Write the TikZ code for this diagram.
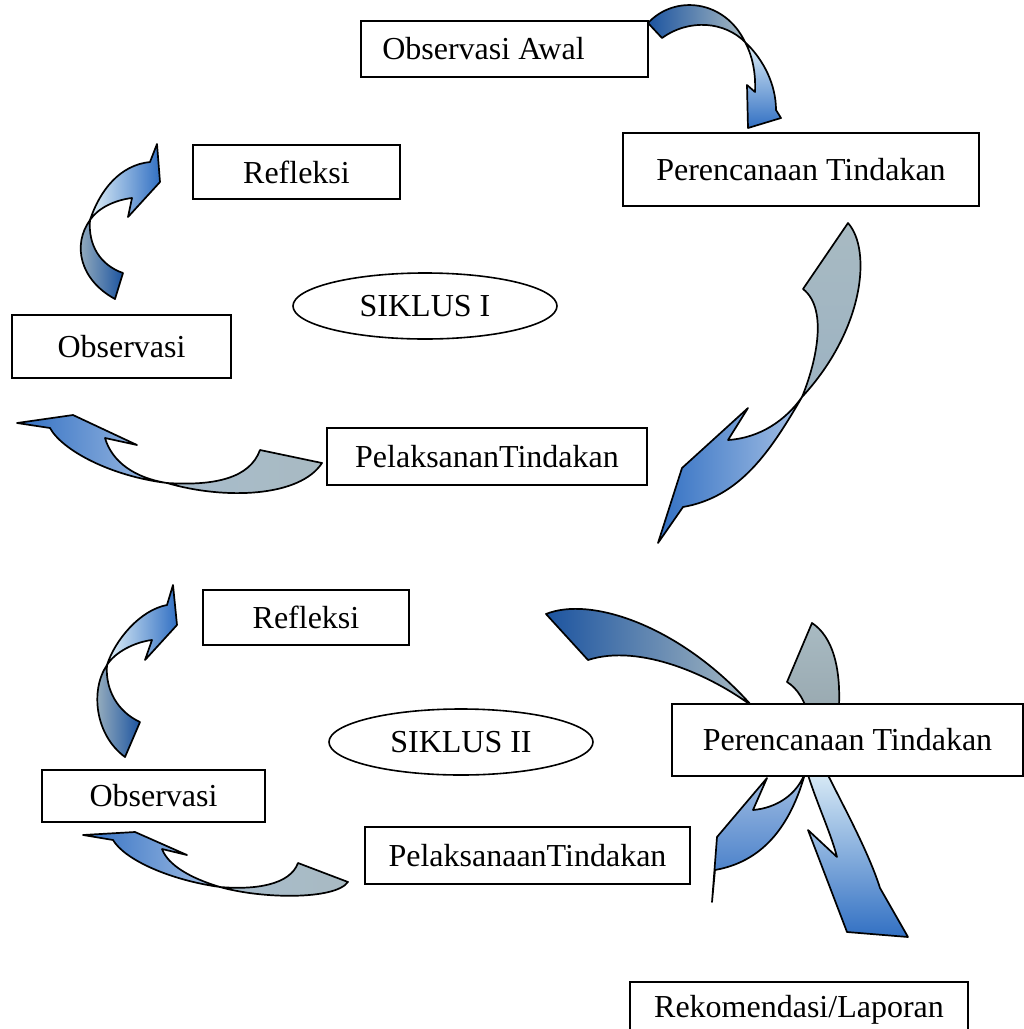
\documentclass[tikz,border=0pt]{standalone}
\usepackage{fontspec}
\setmainfont{Liberation Serif}
\usetikzlibrary{shapes.geometric}
\definecolor{birutua}{RGB}{28,84,160}
\definecolor{biru}{RGB}{50,112,195}
\definecolor{birupucat}{RGB}{165,192,228}
\definecolor{muda}{RGB}{224,240,248}
\definecolor{abu}{RGB}{168,186,194}
\tikzset{
  kotak/.style={draw, fill=white, line width=1.6pt, font=\fontsize{32}{38}\selectfont},
  siklus/.style={kotak, ellipse, minimum width=264pt, minimum height=66pt, inner sep=0pt},
  pita/.style={draw, line width=1.7pt, line join=round}
}

\begin{document}
\begin{tikzpicture}[x=1pt, y=-1pt]
  \useasboundingbox (0,0) rectangle (1024,1029);

  \draw[pita, left color=birutua, right color=abu] (648,23) .. controls (675,-6) and (725,0) .. (745,42) .. controls (725,22) and (690,18) .. (662,38) -- cycle;
  \draw[pita, top color=muda, bottom color=biru] (745,42) .. controls (764,60) and (776,85) .. (776,110) -- (781,118) -- (748,128) -- (747,85) -- (755,92) .. controls (756,72) and (752,55) .. (745,42) -- cycle;

  \draw[pita, top color=abu, bottom color=abu!90!biru] (848,223) .. controls (872,250) and (864,330) .. (802,397) .. controls (814,368) and (830,310) .. (803,289) -- cycle;
  \draw[pita, left color=biru, right color=birupucat] (802,397) .. controls (770,452) and (740,497) .. (683,507) -- (658,543) -- (682,468) -- (748,408) -- (728,440) .. controls (760,438) and (786,420) .. (802,397) -- cycle;

  \draw[pita, left color=abu!70!birupucat, right color=abu] (260,450) .. controls (250,478) and (215,486) .. (167,483) .. controls (225,500) and (300,497) .. (322,463) -- cycle;
  \draw[pita, left color=biru, right color=birupucat] (167,483) .. controls (135,478) and (112,462) .. (105,438) -- (137,445) -- (73,415) -- (17,423) -- (50,428) .. controls (62,450) and (110,476) .. (167,483) -- cycle;

  \draw[pita, left color=abu, right color=birutua] (115,299) .. controls (80,280) and (72,245) .. (90,220) .. controls (88,245) and (100,265) .. (123,273) -- cycle;
  \draw[pita, left color=muda, right color=biru] (90,220) .. controls (100,190) and (120,165) .. (150,162) -- (157,144) -- (160,182) -- (128,217) -- (132,198) .. controls (115,200) and (98,208) .. (90,220) -- cycle;

  \draw[pita, left color=abu, right color=birutua] (125,757) .. controls (95,735) and (90,690) .. (107,665) .. controls (105,690) and (118,712) .. (140,722) -- cycle;
  \draw[pita, left color=muda, right color=biru] (107,665) .. controls (115,640) and (140,610) .. (167,605) -- (173,585) -- (177,625) -- (145,660) -- (152,640) .. controls (135,642) and (115,652) .. (107,665) -- cycle;

  \draw[pita, left color=abu!70!birupucat, right color=abu] (298,863) .. controls (290,885) and (255,890) .. (220,887) .. controls (262,899) and (335,900) .. (348,882) -- cycle;
  \draw[pita, left color=biru, right color=birupucat] (220,887) .. controls (190,878) and (168,865) .. (162,849) -- (187,855) -- (135,832) -- (83,835) -- (113,840) .. controls (125,860) and (170,880) .. (220,887) -- cycle;

  \draw[pita, left color=birutua, middle color=abu, right color=abu] (546,614) .. controls (590,596) and (680,625) .. (752,706) .. controls (712,676) and (640,643) .. (588,660) -- cycle;
  \draw[pita, top color=birupucat, bottom color=biru] (806,770) .. controls (790,830) and (760,862) .. (715,870) -- (712,902) -- (717,837) -- (767,778) -- (753,810) .. controls (776,808) and (798,795) .. (806,770) -- cycle;
  \draw[pita, top color=abu, bottom color=abu!90!black] (812,623) .. controls (832,636) and (843,668) .. (838,720) -- (810,720) .. controls (805,700) and (797,688) .. (787,682) -- cycle;
  \draw[pita, top color=muda, bottom color=biru] (823,765) .. controls (840,800) and (868,850) .. (880,888) -- (908,937) -- (847,932) -- (808,830) -- (837,857) .. controls (830,830) and (815,800) .. (805,765) -- cycle;

  \node[kotak, minimum width=287pt, minimum height=56pt] (awal) at (504.5,49) {Observasi Awal\hspace*{42pt}};
  \node[kotak, minimum width=356pt, minimum height=73pt] (rencana1) at (801,169.5) {Perencanaan Tindakan};
  \node[kotak, minimum width=207pt, minimum height=54pt] (refleksi1) at (296.5,172) {Refleksi};
  \node[siklus] (siklus1) at (425,306) {SIKLUS I};
  \node[kotak, minimum width=219pt, minimum height=63pt] (obs1) at (121.5,346.5) {Observasi};
  \node[kotak, minimum width=320pt, minimum height=57pt] (pelaksanan) at (487,456.5) {PelaksananTindakan};
  \node[kotak, minimum width=206pt, minimum height=55pt] (refleksi2) at (306,617.5) {Refleksi};
  \node[siklus] (siklus2) at (461,742) {SIKLUS II};
  \node[kotak, minimum width=351pt, minimum height=72pt] (rencana2) at (847.5,740) {Perencanaan Tindakan};
  \node[kotak, minimum width=223pt, minimum height=52pt] (obs2) at (153.5,796) {Observasi};
  \node[kotak, minimum width=325pt, minimum height=57pt] (pelaksanaan) at (527.5,855.5) {PelaksanaanTindakan};
  \node[kotak, minimum width=338pt, minimum height=56pt] (rekomendasi) at (799,1010) {Rekomendasi/Laporan};
\end{tikzpicture}
\end{document}
